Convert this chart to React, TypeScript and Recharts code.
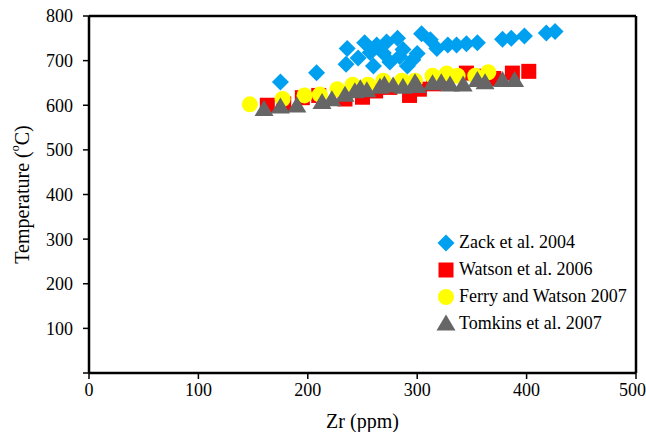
import { ScatterChart, Scatter, XAxis, YAxis, ReferenceLine, Legend } from 'recharts'

// Zr (ppm) vs temperature (°C)
const zack: [number, number][] = [
  [175, 652], [208, 673], [235, 692], [236, 727], [246, 706], [252, 740], [257, 718],
  [260, 688], [263, 735], [269, 717], [272, 742], [275, 697], [282, 750], [284, 709],
  [287, 725], [291, 688], [296, 702], [300, 716], [304, 760], [312, 747], [318, 727],
  [328, 735], [336, 735], [345, 738], [355, 740], [378, 748], [386, 750], [398, 755],
  [418, 762], [426, 765],
]
const watson: [number, number][] = [
  [163, 600], [178, 603], [195, 617], [210, 622], [234, 614], [250, 618], [262, 632],
  [275, 640], [293, 622], [302, 636], [315, 648], [324, 652], [345, 672], [360, 665],
  [370, 660], [387, 672], [402, 676],
]
const ferry: [number, number][] = [
  [147, 602], [177, 614], [197, 622], [211, 624], [227, 636], [241, 646], [255, 646],
  [269, 655], [286, 655], [298, 655], [314, 666], [327, 671], [337, 666], [353, 666],
  [365, 674],
]
const tomkins: [number, number][] = [
  [160, 590], [175, 596], [190, 598], [213, 606], [222, 612], [234, 622], [243, 630],
  [248, 637], [254, 632], [266, 640], [270, 645], [278, 643], [287, 640], [298, 650],
  [300, 642], [314, 648], [322, 650], [330, 645], [342, 645], [355, 655], [362, 650],
  [378, 655], [389, 655],
]

const xTicks = [0, 100, 200, 300, 400, 500]
const yTicks = [0, 100, 200, 300, 400, 500, 600, 700, 800]

const toPts = (arr: [number, number][]) => arr.map(([zr, t]) => ({ zr, t }))

const FONT = "'Liberation Serif', 'Times New Roman', 'DejaVu Serif', serif"
const BLUE = '#00A0F0'
const RED = '#FF0000'
const YELLOW = '#FFFF00'
const GRAY = '#666666'

// marker shapes
function Diamond({ cx, cy, fill }: any) {
  const r = 8.5
  return <polygon points={`${cx},${cy - r} ${cx + r},${cy} ${cx},${cy + r} ${cx - r},${cy}`} fill={fill} />
}
function Square({ cx, cy, fill }: any) {
  const s = 15
  return <rect x={cx - s / 2} y={cy - s / 2} width={s} height={s} fill={fill} />
}
function Circle({ cx, cy, fill }: any) {
  return <circle cx={cx} cy={cy} r={8} fill={fill} />
}
function Triangle({ cx, cy, fill }: any) {
  const w = 9.5, h = 16
  return <polygon points={`${cx},${cy - h * 0.6} ${cx + w},${cy + h * 0.4} ${cx - w},${cy + h * 0.4}`} fill={fill} />
}

const series = [
  { name: 'Zack et al. 2004', data: zack, color: BLUE, Shape: Diamond },
  { name: 'Watson et al. 2006', data: watson, color: RED, Shape: Square },
  { name: 'Ferry and Watson 2007', data: ferry, color: YELLOW, Shape: Circle },
  { name: 'Tomkins et al. 2007', data: tomkins, color: GRAY, Shape: Triangle },
]

function LegendBox() {
  return (
    <div style={{ fontFamily: FONT, fontSize: 18, color: '#000' }}>
      {series.map((s) => (
        <div key={s.name} style={{ display: 'flex', alignItems: 'center', height: 27 }}>
          <svg width={20} height={20} style={{ marginRight: 3 }}>
            <s.Shape cx={10} cy={10} fill={s.color} />
          </svg>
          <span style={{ fontFamily: FONT }}>{s.name}</span>
        </div>
      ))}
    </div>
  )
}

function YLabel({ viewBox }: any) {
  const cx = 22
  const cy = viewBox.y + viewBox.height / 2
  return (
    <text x={cx} y={cy} transform={`rotate(-90, ${cx}, ${cy})`} textAnchor="middle" dominantBaseline="central"
      style={{ fontFamily: FONT, fontSize: 20, fill: '#000' }}>
      Temperature (<tspan baselineShift="super" fontSize={12}>o</tspan>C)
    </text>
  )
}

const tickStyle = { fontSize: 18, fill: '#000' }

export default function App() {
  return (
    <div style={{ position: 'fixed', left: 0, top: 0, width: 646, height: 432, background: '#fff', fontFamily: FONT }}>
      <style>{`.recharts-wrapper text, .recharts-legend-wrapper { font-family: ${FONT} !important; }`}</style>
      <ScatterChart width={646} height={432} margin={{ top: 16, right: 10, bottom: 0, left: 0 }} style={{ fontFamily: FONT }}>
        <XAxis
          type="number"
          dataKey="zr"
          domain={[0, 500]}
          ticks={xTicks}
          height={59}
          tickSize={6}
          tickMargin={4}
          tick={tickStyle}
          axisLine={{ stroke: '#000', strokeWidth: 2.5 }}
          tickLine={{ stroke: '#000', strokeWidth: 1.5 }}
          label={{ value: 'Zr (ppm)', position: 'insideBottom', offset: 4, style: { fontFamily: FONT, fontSize: 20, fill: '#000' } }}
        />
        <YAxis
          type="number"
          dataKey="t"
          domain={[0, 800]}
          ticks={yTicks}
          width={89}
          tickSize={6}
          tickMargin={10}
          tick={tickStyle}
          tickFormatter={(v: number) => (v === 0 ? '' : String(v))}
          axisLine={{ stroke: '#000', strokeWidth: 2.5 }}
          tickLine={{ stroke: '#000', strokeWidth: 1.5 }}
          label={<YLabel />}
        />
        <ReferenceLine y={800} stroke="#000" strokeWidth={2.5} />
        <ReferenceLine x={500} stroke="#000" strokeWidth={2.5} />
        {series.map((s) => (
          <Scatter
            key={s.name}
            name={s.name}
            data={toPts(s.data)}
            fill={s.color}
            shape={(p: any) => <s.Shape cx={p.cx} cy={p.cy} fill={s.color} />}
            isAnimationActive={false}
          />
        ))}
        <Legend
          layout="vertical"
          align="center"
          verticalAlign="middle"
          content={() => <LegendBox />}
          wrapperStyle={{ position: 'absolute', left: 436, top: 229, width: 200, height: 110 }}
        />
      </ScatterChart>
    </div>
  )
}
